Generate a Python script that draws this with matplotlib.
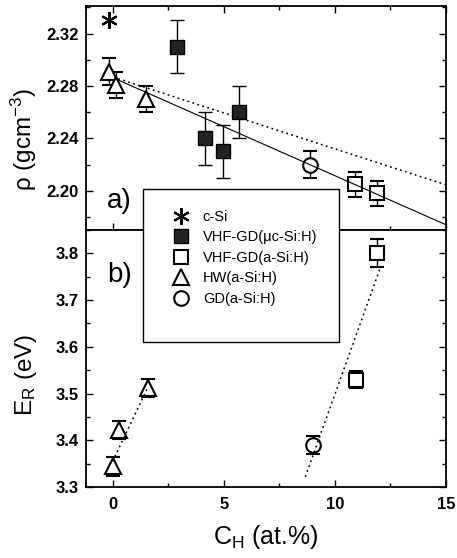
import matplotlib
matplotlib.use('Agg')
import matplotlib.pyplot as plt
from matplotlib.lines import Line2D
from matplotlib.patches import Rectangle
from matplotlib.ticker import MultipleLocator

plt.rcParams['font.family'] = ['Liberation Sans', 'DejaVu Sans']
plt.rcParams['mathtext.default'] = 'regular'

# ---- panel a) density vs hydrogen content ----
csi_x = [-0.15]
csi_rho = [2.33]

uc_x = [2.9, 4.15, 4.95, 5.7]
uc_rho = [2.31, 2.24, 2.23, 2.26]
uc_rho_err = [0.02, 0.02, 0.02, 0.02]

asi_x = [10.9, 11.9]
asi_rho = [2.205, 2.198]
asi_rho_err = [0.0095, 0.0095]

hw_x = [-0.15, 0.15, 1.52]
hw_rho = [2.291, 2.281, 2.27]
hw_rho_err = [0.01, 0.01, 0.01]

gd_x = [8.9]
gd_rho = [2.22]
gd_rho_err = [0.01]

rho_fit_x = [0.25, 15.0]
rho_fit = [2.2845, 2.174]
rho_dot_x = [0.25, 15.0]
rho_dot = [2.2855, 2.2045]

# ---- panel b) E_R vs hydrogen content ----
hw_xb = [0.0, 0.3, 1.6]
hw_er = [3.344, 3.422, 3.512]
hw_er_err = [0.02, 0.02, 0.02]

gd_xb = [9.0]
gd_er = [3.39]
gd_er_err = [0.02]

asi_xb = [10.95, 11.9]
asi_er = [3.53, 3.80]
asi_er_err = [0.018, 0.03]

er_fit1_x = [0.0, 1.6]
er_fit1 = [3.355, 3.515]
er_fit2_x = [8.67, 12.05]
er_fit2 = [3.322, 3.77]

labels = ['c-Si', 'VHF-GD(\u03bcc-Si:H)', 'VHF-GD(a-Si:H)', 'HW(a-Si:H)', 'GD(a-Si:H)']

fig = plt.figure(figsize=(4.57, 5.58), dpi=100)
ax1 = fig.add_axes([0.1882, 0.5878, 0.7877, 0.4014])
ax2 = fig.add_axes([0.1882, 0.1272, 0.7877, 0.4606])

ebkw = dict(ecolor='black', elinewidth=1.0, capsize=5, capthick=1.0, linestyle='none')
dots = (0, (1.2, 2.2))

# panel a (fit lines drawn over the open symbols, as in the original)
ax1.plot(rho_fit_x, rho_fit, color='black', lw=0.8, zorder=4)
ax1.plot(rho_dot_x, rho_dot, color='black', lw=1.1, linestyle=dots, zorder=4)
ax1.plot(csi_x, csi_rho, linestyle='none', marker=(6, 2, 0), ms=12, mec='black', mew=1.5)
ax1.errorbar(uc_x, uc_rho, yerr=uc_rho_err, marker='s', ms=9.5, mfc='#222222', mec='black', mew=1.0, **ebkw)
ax1.errorbar(asi_x, asi_rho, yerr=asi_rho_err, marker='s', ms=9.5, mfc='white', mec='black', mew=1.5, **ebkw)
ax1.errorbar(hw_x, hw_rho, yerr=hw_rho_err, marker='^', ms=11, mfc='white', mec='black', mew=1.5, **ebkw)
ax1.errorbar(gd_x, gd_rho, yerr=gd_rho_err, marker='o', ms=10.5, mfc='white', mec='black', mew=1.5, **ebkw)

# panel b
ax2.plot(er_fit1_x, er_fit1, color='black', lw=1.1, linestyle=dots, zorder=4)
ax2.plot(er_fit2_x, er_fit2, color='black', lw=1.1, linestyle=dots, zorder=4)
ax2.errorbar(hw_xb, hw_er, yerr=hw_er_err, marker='^', ms=11, mfc='white', mec='black', mew=1.5, **ebkw)
ax2.errorbar(gd_xb, gd_er, yerr=gd_er_err, marker='o', ms=10.5, mfc='white', mec='black', mew=1.5, **ebkw)
ax2.errorbar(asi_xb, asi_er, yerr=asi_er_err, marker='s', ms=9.5, mfc='white', mec='black', mew=1.5, **ebkw)

for ax in (ax1, ax2):
    ax.set_xlim(-1.2, 15)
    ax.xaxis.set_major_locator(MultipleLocator(5))
    ax.xaxis.set_minor_locator(MultipleLocator(2.5))
    for s in ax.spines.values():
        s.set_linewidth(1.3)
    ax.tick_params(which='both', direction='in', width=1.0, right=True)
    ax.tick_params(which='major', length=5)
    ax.tick_params(which='minor', length=3)
    ax.tick_params(axis='y', labelsize=12, pad=5)
    ax.tick_params(axis='x', labelsize=12, pad=7)

ax1.set_ylim(2.17, 2.341)
ax1.yaxis.set_major_locator(MultipleLocator(0.04))
ax1.yaxis.set_minor_locator(MultipleLocator(0.02))
ax1.yaxis.set_major_formatter('{x:.2f}')
ax1.tick_params(which='both', top=True, bottom=True, labelbottom=False)

ax2.set_ylim(3.3, 3.85)
ax2.yaxis.set_major_locator(MultipleLocator(0.1))
ax2.yaxis.set_minor_locator(MultipleLocator(0.05))
ax2.yaxis.set_major_formatter('{x:.1f}')
ax2.tick_params(which='both', top=False)

for ax in (ax1, ax2):
    for t in ax.get_xticklabels() + ax.get_yticklabels():
        t.set_fontweight('bold')

ax1.set_ylabel('\u03c1 (gcm$^{-3}$)', fontsize=17.5)
ax1.yaxis.set_label_coords(-0.13, 0.406)
ax2.set_ylabel('E$_R$ (eV)', fontsize=17.5)
ax2.yaxis.set_label_coords(-0.13, 0.436)
ax2.set_xlabel('C$_H$ (at.%)', fontsize=18, labelpad=8)

ax1.text(0.058, 0.098, 'a)', transform=ax1.transAxes, fontsize=20, va='baseline')
ax2.text(0.058, 0.798, 'b)', transform=ax2.transAxes, fontsize=20, va='baseline')

# legend box spanning both panels
fig.add_artist(Rectangle((0.3122, 0.3871), 0.4302, 0.2737, transform=fig.transFigure,
                         facecolor='white', edgecolor='black', lw=1.0, zorder=3))
handles = [
    Line2D([], [], linestyle='none', marker=(6, 2, 0), ms=12, mec='black', mew=1.5),
    Line2D([], [], linestyle='none', marker='s', ms=9.5, mfc='#222222', mec='black', mew=1.0),
    Line2D([], [], linestyle='none', marker='s', ms=9.5, mfc='white', mec='black', mew=1.5),
    Line2D([], [], linestyle='none', marker='^', ms=11, mfc='white', mec='black', mew=1.5),
    Line2D([], [], linestyle='none', marker='o', ms=10.5, mfc='white', mec='black', mew=1.5),
]
leg = fig.legend(handles, labels, loc='upper left', bbox_to_anchor=(0.380, 0.624),
                 frameon=False, fontsize=10.5, handlelength=1.0, handletextpad=1.0,
                 borderpad=0, borderaxespad=0, labelspacing=0.45)
leg.set_zorder(4)

fig.savefig('out.png', dpi=100)
